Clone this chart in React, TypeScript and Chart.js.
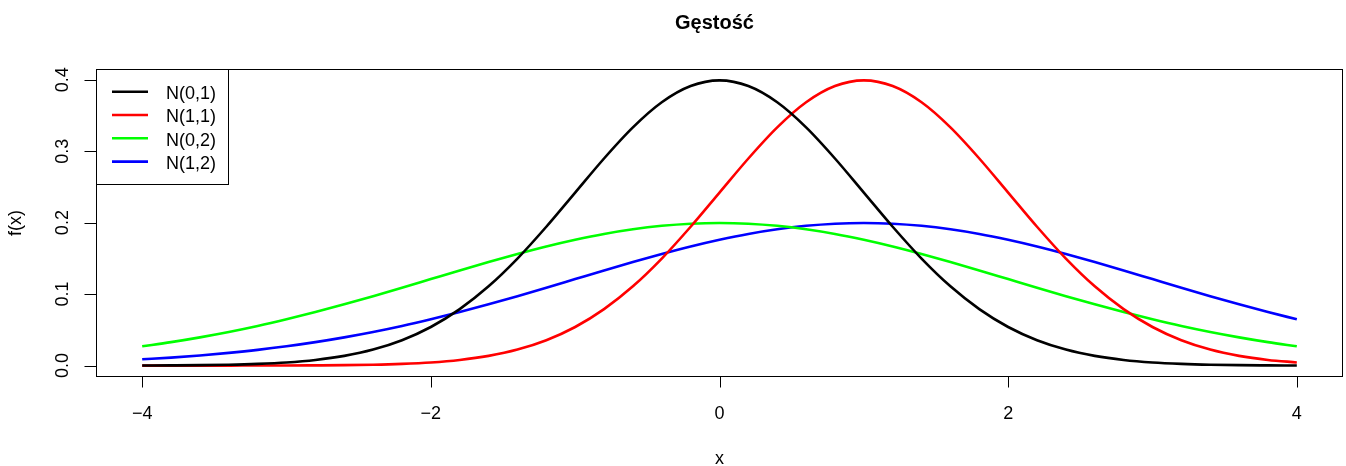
import { useEffect, useRef } from 'react';
import { Chart, registerables } from 'chart.js';

Chart.register(...registerables);

const xValues = [
  -4, -3.8, -3.6, -3.4, -3.2, -3, -2.8, -2.6, -2.4, -2.2, -2, -1.8, -1.6, -1.4, -1.2, -1, -0.8, -0.6, -0.4, -0.2,
  0, 0.2, 0.4, 0.6, 0.8, 1, 1.2, 1.4, 1.6, 1.8, 2, 2.2, 2.4, 2.6, 2.8, 3, 3.2, 3.4, 3.6, 3.8, 4,
];

const n01 = [
  0.0001, 0.0003, 0.0006, 0.0012, 0.0024, 0.0044, 0.0079, 0.0136, 0.0224, 0.0355, 0.054, 0.079, 0.1109, 0.1497,
  0.1942, 0.242, 0.2897, 0.3332, 0.3683, 0.391, 0.3989, 0.391, 0.3683, 0.3332, 0.2897, 0.242, 0.1942, 0.1497,
  0.1109, 0.079, 0.054, 0.0355, 0.0224, 0.0136, 0.0079, 0.0044, 0.0024, 0.0012, 0.0006, 0.0003, 0.0001,
];

const n11 = [
  0.0, 0.0, 0.0, 0.0, 0.0001, 0.0001, 0.0003, 0.0006, 0.0012, 0.0024, 0.0044, 0.0079, 0.0136, 0.0224, 0.0355,
  0.054, 0.079, 0.1109, 0.1497, 0.1942, 0.242, 0.2897, 0.3332, 0.3683, 0.391, 0.3989, 0.391, 0.3683, 0.3332,
  0.2897, 0.242, 0.1942, 0.1497, 0.1109, 0.079, 0.054, 0.0355, 0.0224, 0.0136, 0.0079, 0.0044,
];

const n02 = [
  0.027, 0.0328, 0.0395, 0.047, 0.0554, 0.0648, 0.0749, 0.0857, 0.0971, 0.1089, 0.121, 0.1331, 0.1449, 0.1561,
  0.1666, 0.176, 0.1842, 0.1907, 0.1955, 0.1985, 0.1995, 0.1985, 0.1955, 0.1907, 0.1842, 0.176, 0.1666, 0.1561,
  0.1449, 0.1331, 0.121, 0.1089, 0.0971, 0.0857, 0.0749, 0.0648, 0.0554, 0.047, 0.0395, 0.0328, 0.027,
];

const n12 = [
  0.0088, 0.0112, 0.0142, 0.0178, 0.022, 0.027, 0.0328, 0.0395, 0.047, 0.0554, 0.0648, 0.0749, 0.0857, 0.0971,
  0.1089, 0.121, 0.1331, 0.1449, 0.1561, 0.1666, 0.176, 0.1842, 0.1907, 0.1955, 0.1985, 0.1995, 0.1985, 0.1955,
  0.1907, 0.1842, 0.176, 0.1666, 0.1561, 0.1449, 0.1331, 0.121, 0.1089, 0.0971, 0.0857, 0.0749, 0.0648,
];

const seriesNames = ['N(0,1)', 'N(1,1)', 'N(0,2)', 'N(1,2)'];
const seriesColors = ['#000000', '#FF0000', '#00FF00', '#0000FF'];
const xTicks = [-4, -2, 0, 2, 4];
const xTickLabels = ['\u22124', '\u22122', '0', '2', '4'];
const yTicks = [0, 0.1, 0.2, 0.3, 0.4];
const yTickLabels = ['0.0', '0.1', '0.2', '0.3', '0.4'];
const titleText = 'Gęstość';
const xTitle = 'x';
const yTitle = 'f(x)';

const FONT = '"Liberation Sans", Arial, Helvetica, sans-serif';

const rPlotPlugin = {
  id: 'rPlot',
  afterDatasetsDraw(chart: any) {
    const ctx = chart.ctx as CanvasRenderingContext2D;
    const area = chart.chartArea;
    const xs = chart.scales.x;
    const ys = chart.scales.y;
    ctx.save();
    ctx.strokeStyle = '#000';
    ctx.fillStyle = '#000';
    ctx.lineWidth = 1;

    // box
    ctx.strokeRect(Math.round(area.left) + 0.5, Math.round(area.top) + 0.5,
      Math.round(area.right - area.left) - 1, Math.round(area.bottom - area.top) - 1);

    // x axis ticks
    const xb = Math.round(area.bottom) - 0.5;
    ctx.beginPath();
    const x0 = Math.round(xs.getPixelForValue(xTicks[0])) + 0.5;
    const x1 = Math.round(xs.getPixelForValue(xTicks[xTicks.length - 1])) + 0.5;
    ctx.moveTo(x0, xb);
    ctx.lineTo(x1, xb);
    xTicks.forEach((t) => {
      const px = Math.round(xs.getPixelForValue(t)) + 0.5;
      ctx.moveTo(px, xb);
      ctx.lineTo(px, xb + 11);
    });
    ctx.stroke();
    ctx.font = `18px ${FONT}`;
    ctx.textAlign = 'center';
    ctx.textBaseline = 'alphabetic';
    xTicks.forEach((t, i) => {
      ctx.fillText(xTickLabels[i], xs.getPixelForValue(t), 419);
    });

    // y axis ticks
    const yl = Math.round(area.left) + 0.5;
    ctx.beginPath();
    const y0 = Math.round(ys.getPixelForValue(yTicks[0])) + 0.5;
    const y1 = Math.round(ys.getPixelForValue(yTicks[yTicks.length - 1])) + 0.5;
    ctx.moveTo(yl, y0);
    ctx.lineTo(yl, y1);
    yTicks.forEach((t) => {
      const py = Math.round(ys.getPixelForValue(t)) + 0.5;
      ctx.moveTo(yl, py);
      ctx.lineTo(yl - 12, py);
    });
    ctx.stroke();
    yTicks.forEach((t, i) => {
      ctx.save();
      ctx.translate(68, ys.getPixelForValue(t));
      ctx.rotate(-Math.PI / 2);
      ctx.textAlign = 'center';
      ctx.textBaseline = 'alphabetic';
      ctx.fillText(yTickLabels[i], 0, 0);
      ctx.restore();
    });

    // axis titles
    ctx.textAlign = 'center';
    ctx.fillText(xTitle, (area.left + area.right) / 2, 464);
    ctx.save();
    ctx.translate(21, (area.top + area.bottom) / 2);
    ctx.rotate(-Math.PI / 2);
    ctx.fillText(yTitle, 0, 0);
    ctx.restore();

    // title
    ctx.font = `bold 20px ${FONT}`;
    ctx.fillText(titleText, (area.left + area.right) / 2 - 5, 29);

    // legend
    const lx = Math.round(area.left) + 0.5;
    const ly = Math.round(area.top) + 0.5;
    ctx.fillStyle = '#fff';
    ctx.fillRect(lx, ly, 132, 115);
    ctx.strokeStyle = '#000';
    ctx.lineWidth = 1;
    ctx.strokeRect(lx, ly, 132, 115);
    ctx.font = `18px ${FONT}`;
    ctx.textAlign = 'left';
    seriesNames.forEach((name, i) => {
      const yy = 91.7 + i * 23.3;
      ctx.strokeStyle = seriesColors[i];
      ctx.lineWidth = 2.6;
      ctx.beginPath();
      ctx.moveTo(112, yy);
      ctx.lineTo(148, yy);
      ctx.stroke();
      ctx.fillStyle = '#000';
      ctx.fillText(name, 166, yy + 7.3);
    });
    ctx.restore();
  },
};

export default function App() {
  const ref = useRef<HTMLCanvasElement | null>(null);
  useEffect(() => {
    document.body.style.margin = '0';
    if (!ref.current) return;
    const allSeries = [n01, n11, n02, n12];
    const chart = new Chart(ref.current, {
      type: 'line',
      data: {
        datasets: allSeries.map((s, i) => ({
          label: seriesNames[i],
          data: s.map((v, j) => ({ x: xValues[j], y: v })),
          borderColor: seriesColors[i],
          borderWidth: 2.6,
          pointRadius: 0,
          fill: false,
          cubicInterpolationMode: 'monotone' as const,
        })),
      },
      options: {
        responsive: false,
        animation: false,
        devicePixelRatio: 1,
        layout: { padding: { left: 96, right: 3, top: 69, bottom: 89 } },
        scales: {
          x: { type: 'linear', min: -4.32, max: 4.32, display: false },
          y: { type: 'linear', min: -0.01596, max: 0.41488, display: false },
        },
        plugins: {
          legend: { display: false },
          tooltip: { enabled: false },
          title: { display: false },
        },
      },
      plugins: [rPlotPlugin],
    });
    return () => chart.destroy();
  }, []);
  return (
    <div style={{ width: 1346, height: 466, background: '#fff' }}>
      <canvas ref={ref} width={1346} height={466} style={{ display: 'block' }} />
    </div>
  );
}
